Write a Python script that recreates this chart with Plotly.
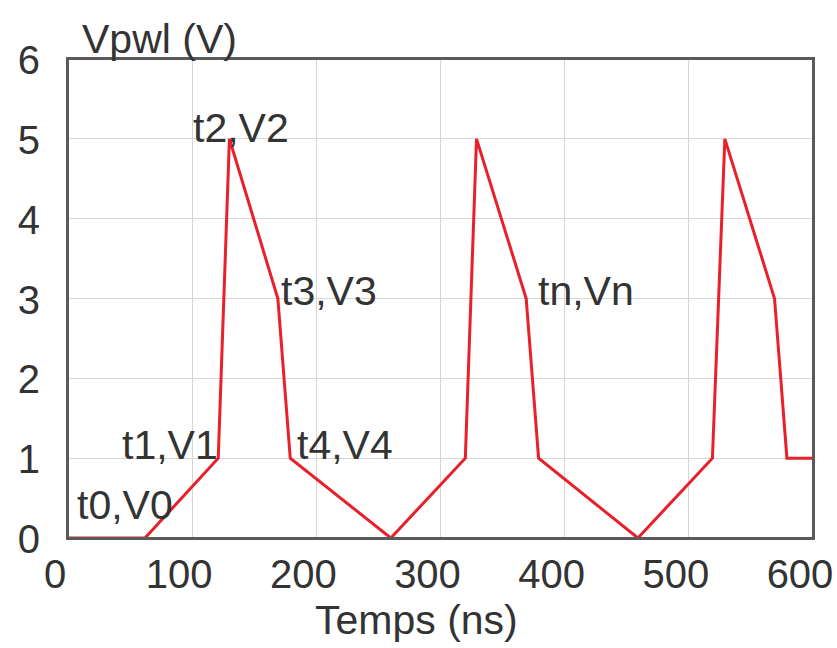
import plotly.graph_objects as go

# Data
t_ns = [0, 62, 121, 130, 169, 179, 260, 320, 329, 369, 379, 459, 519, 529, 569, 579, 600]
v_pwl = [0, 0, 1, 5, 3, 1, 0, 1, 5, 3, 1, 0, 1, 5, 3, 1, 1]

label_text = ["t0,V0", "t1,V1", "t2,V2", "t3,V3", "t4,V4", "tn,Vn"]
label_x = [6, 42, 99, 170, 183, 377]
label_y = [0.41, 1.16, 5.14, 3.1, 1.16, 3.1]

x_ticks = [0, 100, 200, 300, 400, 500, 600]
y_ticks = [0, 1, 2, 3, 4, 5, 6]

FONT = "Liberation Sans, Arial, sans-serif"
TXT = "#333333"

fig = go.Figure()
fig.add_trace(go.Scatter(x=t_ns, y=v_pwl, mode="lines",
                         line=dict(color="#e8202a", width=3), showlegend=False,
                         cliponaxis=False))

for txt, x, y in zip(label_text, label_x, label_y):
    fig.add_annotation(x=x, y=y, text=txt, showarrow=False, xanchor="left",
                       yanchor="middle", font=dict(family=FONT, size=41, color=TXT))

fig.add_annotation(xref="paper", yref="paper", x=0.016, y=0.99, yanchor="bottom",
                   xanchor="left", text="Vpwl (V)", showarrow=False,
                   font=dict(family=FONT, size=41, color=TXT))

fig.add_annotation(xref="paper", yref="paper", x=0.468, y=-0.172, yanchor="middle",
                   xanchor="center", text="Temps (ns)", showarrow=False,
                   font=dict(family=FONT, size=41, color=TXT))

axis_common = dict(showgrid=True, gridcolor="#d6d6d6", gridwidth=1,
                   showline=True, linecolor="#5a5a5a", linewidth=2, mirror=True,
                   zeroline=False, ticks="", automargin=False,
                   tickfont=dict(family=FONT, size=40, color=TXT))

fig.update_xaxes(range=[0, 600], tickvals=x_ticks, ticklabelshift=-13, **axis_common)
fig.update_yaxes(range=[0, 6], tickvals=y_ticks, ticklabelshift=1,
                 ticklabelstandoff=18, **axis_common)

# plot-area frame
fig.add_shape(type="rect", xref="paper", yref="paper", x0=0, y0=0, x1=1, y1=1,
              line=dict(color="#5a5a5a", width=2), layer="above")

fig.update_layout(width=837, height=648, margin=dict(l=68, r=24, t=59, b=110),
                  plot_bgcolor="white", paper_bgcolor="white")

fig.write_html("out.html")
